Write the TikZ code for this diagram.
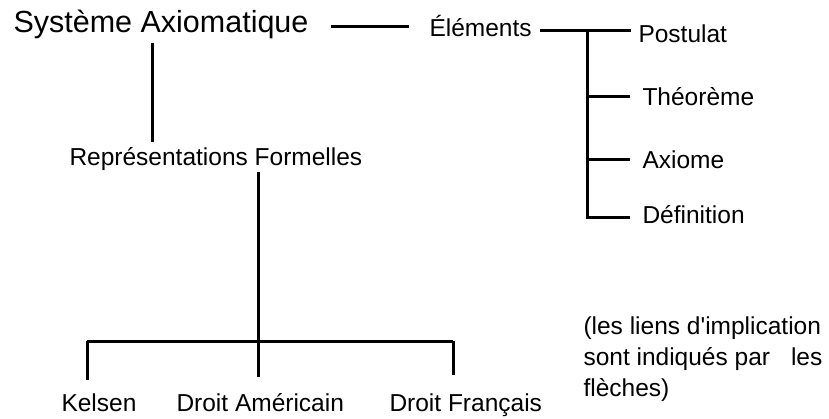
\documentclass[tikz,border=0pt]{standalone}
\usepackage{fontspec}
\setmainfont{Liberation Sans}
\usetikzlibrary{positioning}
\tikzset{
  big/.style={inner sep=0pt,anchor=base west,font=\fontsize{30.5}{36}\selectfont},
  lbl/.style={inner sep=0pt,anchor=base west,font=\fontsize{24.5}{31}\selectfont},
}

\begin{document}
\begin{tikzpicture}[x=1pt,y=-1pt,line width=3pt]
\useasboundingbox (0,0) rectangle (829,419);

% Texts
\node[big] (sys) at (12,33) {Système Axiomatique};
\node[lbl] (elem) at (428,37) {Éléments};
\node[lbl] (post) at (637,43) {Postulat};
\node[lbl] (theo) at (641,106) {Théorème};
\node[lbl] (axio) at (641,169) {Axiome};
\node[lbl] (defi) at (641,224) {Définition};
\node[lbl] (repr) at (68,166) {Représentations Formelles};
\node[lbl] (kels) at (60,411) {Kelsen};
\node[lbl] (damer) at (175,411) {Droit Américain};
\node[lbl] (dfran) at (388,411) {Droit Français};
\node[lbl,align=left,anchor=north west] (note) at (582,315)
  {(les liens d\textquotesingle implication\\sont indiqués par\hspace{21pt}les\\flèches)};

% Coordinates of junctions
\coordinate (S1) at (331,27);
\coordinate (S2) at (409,27);
\coordinate (S3) at (152,43);
\coordinate (S4) at (152,142);
\coordinate (E1) at (540,31);
\coordinate (E2) at (587,31);
\coordinate (E3) at (587,218);
\coordinate (P) at (631,31);
\coordinate (R1) at (258,172);
\coordinate (R2) at (258,341);
\coordinate (K) at (87,341);
\coordinate (F) at (453,341);

% Draw the tree
\draw (S1) -- (S2);
\draw (S3) -- (S4);
\draw (E1) -- (P);
\draw (E2) -- (E3) -- ++(43,0);
\draw (E2 |- 0,97) -- ++(43,0);
\draw (E2 |- 0,160) -- ++(43,0);
\draw (R1) -- (R2) -- ++(0,36);
\draw (K) -- (F);
\draw (K) -- ++(0,39);
\draw (F) -- ++(0,34);

\end{tikzpicture}
\end{document}
